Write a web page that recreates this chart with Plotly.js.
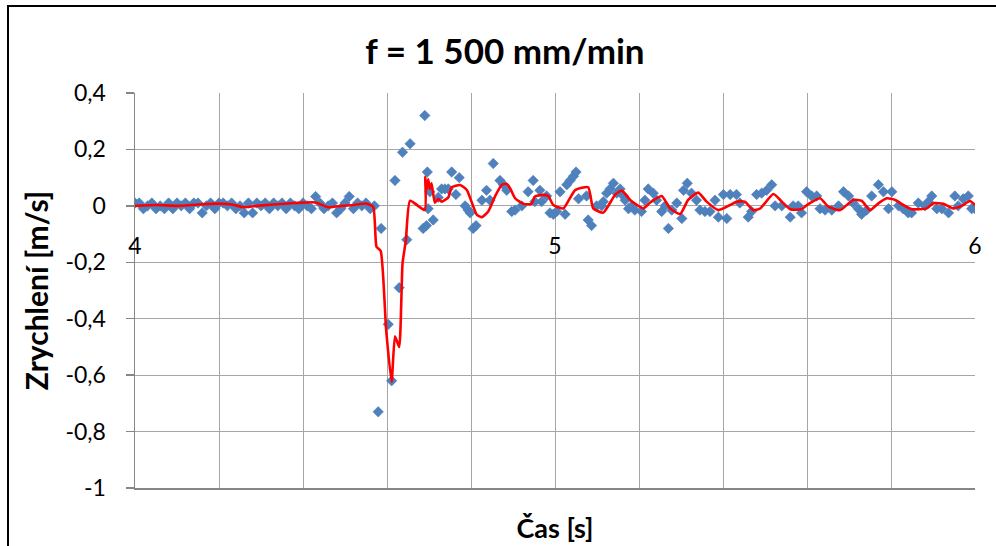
<!DOCTYPE html>
<html>
<head>
<meta charset="utf-8">
<script src="https://cdn.plot.ly/plotly-3.0.1.min.js"></script>
<style>
  html, body { margin: 0; padding: 0; background: #fff; }
  #chart { width: 996px; height: 546px; }
</style>
</head>
<body>
<div id="chart"></div>
<script>
// Measured acceleration samples: time [s] and value [m/s^2]
const sampleTime = [
  4.00,4.01,4.02,4.03,4.04,4.05,4.06,4.07,4.08,4.09,
  4.10,4.11,4.12,4.13,4.14,4.15,4.16,4.17,4.18,4.19,
  4.20,4.21,4.22,4.23,4.24,4.25,4.26,4.27,4.28,4.29,
  4.30,4.31,4.32,4.33,4.34,4.35,4.36,4.37,4.38,4.39,
  4.40,4.41,4.42,4.43,4.44,4.45,4.46,4.47,4.48,4.49,
  4.50,4.51,4.52,4.53,4.54,4.55,4.56,4.57,
  4.579,4.586,4.603,4.611,4.619,4.629,4.637,4.647,4.655,
  4.686,4.690,4.694,4.696,4.698,4.702,4.710,4.722,4.730,4.738,
  4.746,4.754,4.764,4.772,4.786,4.793,4.798,4.805,4.812,4.826,
  4.837,4.845,4.853,4.869,4.877,4.885,4.897,4.905,4.921,4.936,
  4.948,4.952,4.964,4.968,4.980,4.988,4.996,5.004,5.012,5.024,
  5.028,5.036,5.044,5.050,5.056,5.075,5.079,5.087,5.099,5.111,
  5.115,5.123,5.131,5.139,5.147,5.155,5.163,5.167,5.175,5.183,
  5.190,5.206,5.214,5.222,5.234,5.242,5.254,5.262,5.270,5.278,
  5.290,5.302,5.306,5.315,5.325,5.337,5.345,5.357,5.369,5.381,
  5.389,5.401,5.409,5.417,5.432,5.440,5.460,5.468,5.480,5.492,
  5.504,5.516,5.524,5.540,5.560,5.567,5.579,5.587,5.599,5.611,
  5.623,5.631,5.643,5.659,5.675,5.687,5.699,5.710,5.722,5.730,
  5.742,5.754,5.770,5.782,5.794,5.802,5.818,5.829,5.841,5.849,
  5.865,5.881,5.889,5.897,5.909,5.921,5.937,5.952,5.960,5.972,
  5.984,5.992,6.000
];
const sampleValue = [
  0.01,0.01,-0.01,0.00,0.01,-0.01,0.00,-0.01,0.01,-0.01,
  0.01,0.00,0.01,-0.01,0.01,0.01,-0.025,0.00,0.01,-0.01,
  0.01,0.01,0.00,0.01,-0.01,0.00,-0.025,0.01,-0.025,0.01,
  0.00,0.01,-0.01,0.01,0.00,0.01,-0.01,0.01,0.00,-0.01,
  0.01,0.00,-0.01,0.033,0.01,-0.01,0.00,0.01,-0.025,-0.01,
  0.01,0.033,-0.01,0.01,0.00,0.01,-0.01,0.00,
  -0.73,-0.08,-0.42,-0.62,0.09,-0.29,0.19,-0.12,0.22,
  -0.08,0.32,-0.07,0.12,-0.01,0.05,-0.05,0.03,0.06,0.06,
  0.06,0.12,0.04,0.10,0.00,-0.015,-0.025,-0.08,-0.07,0.02,
  0.055,0.02,0.15,0.09,0.075,0.055,-0.02,-0.015,0.00,0.05,
  0.09,0.015,0.055,0.015,0.035,-0.025,-0.03,-0.02,0.05,-0.03,
  0.075,0.09,0.105,0.12,0.025,0.035,-0.05,-0.07,0.00,0.00,
  0.015,0.045,0.06,0.08,0.045,0.06,0.035,0.02,-0.01,0.00,
  -0.015,-0.02,0.02,0.06,0.045,0.02,-0.02,0.00,-0.08,-0.015,
  0.01,-0.045,0.055,0.08,0.045,0.02,-0.015,-0.02,-0.02,0.02,
  -0.04,0.04,-0.045,0.04,0.04,0.01,-0.04,-0.02,0.04,0.045,
  0.055,0.075,0.00,0.00,-0.04,0.00,0.00,-0.025,0.05,0.035,
  0.035,-0.01,-0.015,-0.015,0.00,0.05,0.035,0.01,-0.01,-0.03,
  -0.015,0.035,0.075,0.05,-0.01,0.05,0.00,-0.01,-0.025,-0.025,
  0.01,0.00,0.015,0.035,-0.01,-0.01,-0.025,0.035,0.00,0.025,
  0.035,-0.01,-0.01
];

// Smoothed curve (red line): time [s] and value [m/s^2]
const smoothTime = [
  4.00,4.05,4.10,4.15,4.20,4.23,4.26,4.29,4.33,4.38,4.43,4.46,4.49,4.52,4.55,4.567,
  4.575,4.585,4.598,4.611,4.619,4.629,4.637,4.645,4.655,4.690,4.691,4.694,4.698,4.702,
  4.706,4.714,4.722,4.730,4.746,4.754,4.774,4.790,4.814,4.826,4.841,4.857,4.873,4.885,
  4.893,4.905,4.925,4.944,4.952,4.972,4.984,4.996,5.020,5.048,5.079,5.091,5.115,5.143,
  5.159,5.179,5.210,5.226,5.254,5.274,5.298,5.317,5.341,5.361,5.389,5.417,5.433,5.452,
  5.472,5.488,5.520,5.540,5.560,5.587,5.603,5.631,5.651,5.679,5.710,5.730,5.750,5.770,
  5.790,5.810,5.829,5.849,5.885,5.901,5.925,5.948,5.968,5.988,6.000
];
const smoothValue = [
  0.000,0.003,0.000,0.005,0.008,0.005,-0.005,0.000,0.005,0.010,0.012,-0.005,0.000,0.003,0.008,-0.003,
  -0.145,-0.160,-0.440,-0.624,-0.462,-0.500,-0.204,-0.121,0.018,-0.015,0.104,0.056,0.094,0.060,
  0.080,0.011,0.025,0.015,0.030,0.066,0.074,0.056,-0.032,-0.040,-0.020,0.033,0.074,0.078,
  0.063,0.027,0.007,0.007,0.033,0.039,0.035,0.003,-0.009,0.056,0.066,-0.009,-0.024,0.039,
  0.054,0.021,-0.009,0.011,0.035,-0.009,-0.029,0.021,0.047,0.015,-0.015,0.003,0.015,0.015,
  -0.015,-0.010,0.042,0.015,-0.012,-0.012,0.006,0.027,-0.003,-0.015,0.021,0.018,-0.015,0.009,
  0.027,0.021,0.003,-0.012,-0.009,0.009,0.007,-0.009,0.000,0.017,0.003
];

// Axis ticks
const yTickVals = [-1, -0.8, -0.6, -0.4, -0.2, 0, 0.2, 0.4];
const yTickText = ['-1', '-0,8', '-0,6', '-0,4', '-0,2', '0', '0,2', '0,4'];
const xTickVals = [4, 5, 6];
const xTickText = ['4', '5', '6'];

const chartTitle = 'f = 1 500 mm/min';
const xTitle = 'Čas [s]';
const yTitle = 'Zrychlení [m/s]';

// Geometry of the figure (pixels)
const W = 996, H = 546;
const M = { l: 135, r: 21, t: 93, b: 58 };
const plotW = W - M.l - M.r, plotH = H - M.t - M.b;
const yRange = [-1, 0.4];
const xRange = [4, 6];
const zeroPos = (0 - yRange[0]) / (yRange[1] - yRange[0]);

const FONT = 'Lato, "Open Sans", sans-serif';
const GRID = '#a6a6a6';

const traces = [
  {
    type: 'scatter', mode: 'markers',
    x: sampleTime, y: sampleValue,
    xaxis: 'x', yaxis: 'y',
    marker: { symbol: 'diamond', size: 8, color: '#4f81bd',
              line: { width: 0.6, color: '#4a7ebb' } },
    hoverinfo: 'x+y'
  },
  {
    type: 'scatter', mode: 'lines',
    x: smoothTime, y: smoothValue,
    xaxis: 'x2', yaxis: 'y',
    line: { color: '#ff0000', width: 2.6, shape: 'spline', smoothing: 0.5 },
    hoverinfo: 'x+y'
  }
];

const layout = {
  width: W, height: H,
  margin: M,
  paper_bgcolor: '#ffffff', plot_bgcolor: '#ffffff',
  showlegend: false,
  font: { family: FONT, size: 23, color: '#000' },
  title: {
    text: '<b>' + chartTitle + '</b>',
    font: { family: FONT, size: 35, color: '#000' },
    xref: 'container', yref: 'container',
    x: 0.507, y: 1 - 52 / H, xanchor: 'center', yanchor: 'middle'
  },
  xaxis: {
    range: xRange, dtick: 0.2, tick0: 4,
    showgrid: true, gridcolor: GRID, gridwidth: 1,
    showticklabels: false, ticks: '',
    showline: true, linecolor: '#868686', linewidth: 1.5,
    zeroline: false,
    title: { text: '<b>' + xTitle + '</b>', font: { family: FONT, size: 27, color: '#000' }, standoff: 30 }
  },
  xaxis2: {
    overlaying: 'x', matches: 'x', anchor: 'free', position: zeroPos,
    range: xRange,
    tickmode: 'array', tickvals: xTickVals, ticktext: xTickText,
    showgrid: false, showline: false, zeroline: false,
    ticks: 'outside', ticklen: 8, tickcolor: 'rgba(0,0,0,0)',
    ticklabelstandoff: 12,
    tickfont: { family: FONT, size: 23, color: '#000' }
  },
  yaxis: {
    range: yRange,
    tickmode: 'array', tickvals: yTickVals, ticktext: yTickText,
    showgrid: true, gridcolor: GRID, gridwidth: 1,
    showline: true, linecolor: '#868686', linewidth: 1.5,
    zeroline: false,
    ticks: 'outside', ticklen: 8, tickcolor: '#868686', tickwidth: 1.5,
    ticklabelstandoff: 15,
    tickfont: { family: FONT, size: 23, color: '#000' },
    title: { text: '<b>' + yTitle + '</b>', font: { family: FONT, size: 30, color: '#000' }, standoff: 8 }
  },
  shapes: [
    {
      // chart-area frame
      type: 'rect', xref: 'paper', yref: 'paper',
      x0: (8 - M.l) / plotW, x1: 1 + 60 / plotW,
      y0: -80 / plotH, y1: (H - M.b - 6) / plotH,
      line: { color: '#000', width: 2 }, fillcolor: 'rgba(0,0,0,0)',
      layer: 'above'
    }
  ]
};

Plotly.newPlot('chart', traces, layout, { staticPlot: true, displayModeBar: false });
</script>
</body>
</html>
